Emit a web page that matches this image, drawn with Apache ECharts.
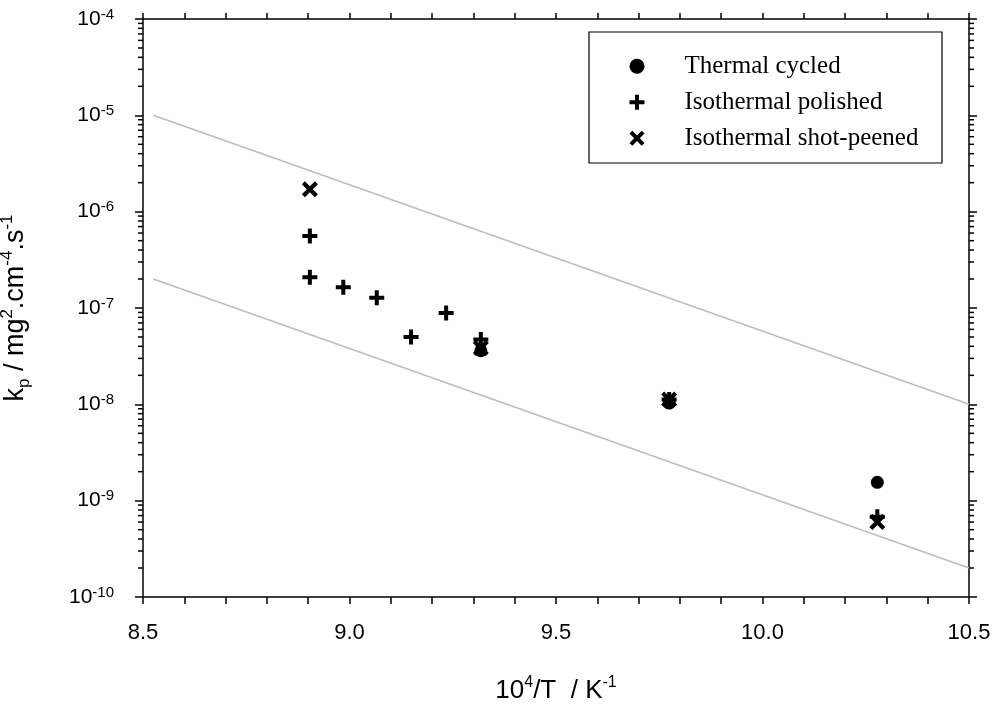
<!DOCTYPE html>
<html>
<head>
<meta charset="utf-8">
<script src="https://cdn.jsdelivr.net/npm/echarts@6/dist/echarts.min.js"></script>
<style>html,body{margin:0;padding:0;background:#fff}#c{width:997px;height:707px}</style>
</head>
<body>
<div id="c"></div>
<script>
// ---- data ----
const thermalX = [9.318, 9.774, 10.278];
const thermalY = [3.6e-8, 1.03e-8, 1.55e-9];
const polishedX = [8.904, 8.904, 8.985, 9.066, 9.149, 9.234, 9.318, 9.774, 10.278];
const polishedY = [5.6e-7, 2.08e-7, 1.64e-7, 1.28e-7, 5.0e-8, 8.9e-8, 4.7e-8, 1.12e-8, 6.8e-10];
const peenedX = [8.904, 9.318, 9.774, 10.278];
const peenedY = [1.71e-6, 3.85e-8, 1.12e-8, 6.0e-10];
const upperLineX = [8.525, 10.5];
const upperLineY = [1e-5, 1e-8];
const lowerLineX = [8.525, 10.5];
const lowerLineY = [2e-7, 2e-10];
const xTickLabels = ['8.5', '9.0', '9.5', '10.0', '10.5'];
const seriesNames = ['Thermal cycled', 'Isothermal polished', 'Isothermal shot-peened'];
const xMin = 8.5, xMax = 10.5, yMin = 1e-10, yMax = 1e-4;
const minorLogTicks = [];
for (let e = -10; e < -4; e++) for (let m = 2; m <= 9; m++) minorLogTicks.push(m * Math.pow(10, e));

const zip = (xs, ys) => xs.map((x, i) => [x, ys[i]]);
const PLUS = 'path://M5.5,0H9.5V5.5H15V9.5H9.5V15H5.5V9.5H0V5.5H5.5Z';
const CROSS = 'path://M0,3L3,0L8,5L13,0L16,3L11,8L16,13L13,16L8,11L3,16L0,13L5,8Z';

const chart = echarts.init(document.getElementById('c'), null, {renderer: 'canvas'});
const axLine = {show: true, lineStyle: {color: '#000', width: 1.5}};
const tickFont = 'Liberation Sans, Arial, sans-serif';

const option = {
  animation: false,
  backgroundColor: '#fff',
  grid: {left: 143, right: 28, top: 19, bottom: 110, containLabel: false, outerBoundsMode: 'none'},
  xAxis: [{
    type: 'value', min: xMin, max: xMax, interval: 0.5, position: 'bottom',
    axisLine: axLine, splitLine: {show: false},
    axisTick: {show: true, length: 7, lineStyle: {color: '#000', width: 1.5}},
    minorTick: {show: true, splitNumber: 5, length: 7, lineStyle: {color: '#000', width: 1.5}},
    axisLabel: {margin: 25, color: '#000', fontSize: 22, fontFamily: tickFont,
      formatter: v => xTickLabels[Math.round((v - xMin) / 0.5)]},
    name: '{a|10}{s|4}{a|/T  / K}{s|-1}', nameLocation: 'middle', nameGap: 78,
    nameTextStyle: {fontFamily: tickFont, rich: {
      a: {fontSize: 26, fontFamily: tickFont, color: '#000', lineHeight: 32},
      s: {fontSize: 16, fontFamily: tickFont, color: '#000', lineHeight: 32, verticalAlign: 'top'}
    }}
  }, {
    type: 'value', min: xMin, max: xMax, interval: 0.5, position: 'top',
    axisLine: axLine, splitLine: {show: false},
    axisTick: {show: true, length: 6, lineStyle: {color: '#000', width: 1.5}},
    minorTick: {show: true, splitNumber: 5, length: 6, lineStyle: {color: '#000', width: 1.5}},
    axisLabel: {show: false}
  }],
  yAxis: [{
    type: 'log', logBase: 10, min: yMin, max: yMax, position: 'left',
    axisLine: axLine, splitLine: {show: false},
    axisTick: {show: true, length: 8, lineStyle: {color: '#000', width: 1.5}},
    axisLabel: {margin: 29, color: '#000', fontFamily: tickFont,
      formatter: v => '{b|10}{s|' + Math.round(Math.log10(v)) + '}',
      rich: {
        b: {fontSize: 21, fontFamily: tickFont, color: '#000', lineHeight: 24},
        s: {fontSize: 15, fontFamily: tickFont, color: '#000', lineHeight: 22, verticalAlign: 'top'}
      }},
    name: '{a|k}{sb|p}{a| / mg}{s|2}{a|.cm}{s|-4}{a|.s}{s|-1}', nameLocation: 'middle', nameGap: 110, nameRotate: 90,
    nameTextStyle: {rich: {
      a: {fontSize: 27, fontFamily: tickFont, color: '#000', lineHeight: 34},
      s: {fontSize: 17, fontFamily: tickFont, color: '#000', lineHeight: 34, verticalAlign: 'top'},
      sb: {fontSize: 17, fontFamily: tickFont, color: '#000', lineHeight: 34, verticalAlign: 'bottom'}
    }}
  }, {
    type: 'log', logBase: 10, min: yMin, max: yMax, position: 'right',
    axisLine: axLine, splitLine: {show: false},
    axisTick: {show: true, length: 8, lineStyle: {color: '#000', width: 1.5}},
    axisLabel: {show: false}
  }],
  legend: {
    data: seriesNames, orient: 'vertical', left: 629.5, top: 53.7, padding: 0,
    itemWidth: 15, itemHeight: 15, itemGap: 11,
    textStyle: {fontFamily: 'Liberation Serif, Times New Roman, serif', fontSize: 25, color: '#000', lineHeight: 25, padding: [0, 0, 0, 35]}
  },
  graphic: [{type: 'rect', shape: {x: 589, y: 32, width: 353, height: 131}, style: {fill: 'none', stroke: '#000', lineWidth: 1.2}, z: 100}],
  series: [
    {type: 'line', data: zip(upperLineX, upperLineY), symbol: 'none', lineStyle: {color: '#bdbdbd', width: 1.6}, silent: true, z: 1},
    {type: 'line', data: zip(lowerLineX, lowerLineY), symbol: 'none', lineStyle: {color: '#bdbdbd', width: 1.6}, silent: true, z: 1},
    {type: 'custom', silent: true, clip: false, data: minorLogTicks.map(v => [xMin, v]),
      renderItem: (params, api) => {
        const v = api.value(1);
        const pl = api.coord([xMin, v]);
        const pr = api.coord([xMax, v]);
        return {type: 'group', children: [
          {type: 'line', shape: {x1: pl[0] - 5, y1: pl[1], x2: pl[0], y2: pl[1]}, style: {stroke: '#000', lineWidth: 1.5}},
          {type: 'line', shape: {x1: pr[0], y1: pr[1], x2: pr[0] + 5, y2: pr[1]}, style: {stroke: '#000', lineWidth: 1.5}}
        ]};
      }},
    {name: seriesNames[0], type: 'scatter', data: zip(thermalX, thermalY), symbol: 'circle', symbolSize: 13, itemStyle: {color: '#000', opacity: 1}, z: 3},
    {name: seriesNames[1], type: 'scatter', data: zip(polishedX, polishedY), symbol: PLUS, symbolSize: 15, itemStyle: {color: '#000', opacity: 1}, z: 4},
    {name: seriesNames[2], type: 'scatter', data: zip(peenedX, peenedY), symbol: CROSS, symbolSize: 16, itemStyle: {color: '#000', opacity: 1}, z: 3}
  ]
};
chart.setOption(option);
</script>
</body>
</html>
